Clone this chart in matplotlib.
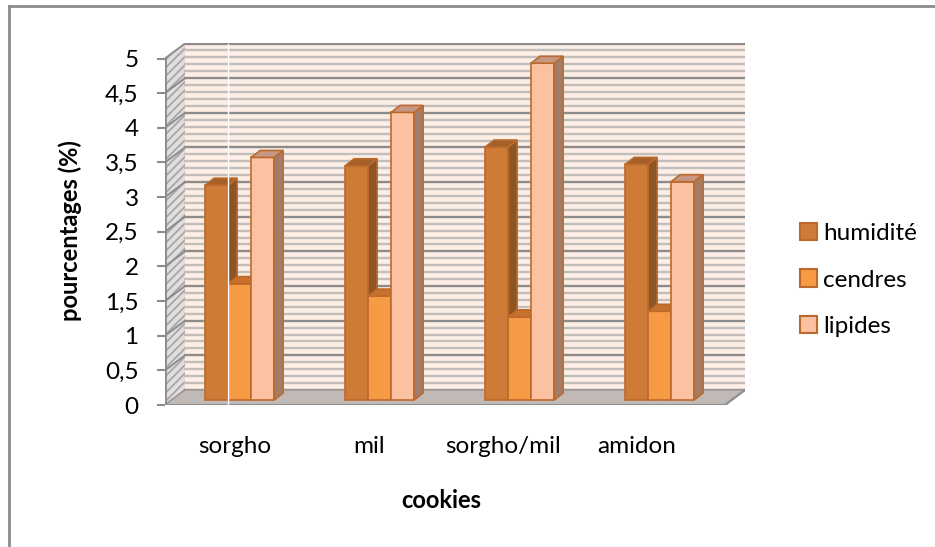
import matplotlib
matplotlib.use("Agg")
import matplotlib.pyplot as plt
from matplotlib.patches import Polygon, Patch
from matplotlib.lines import Line2D
import numpy as np

plt.rcParams['font.family'] = ['Lato', 'DejaVu Sans']
plt.rcParams['hatch.linewidth'] = 1.3

# data
categories = ["sorgho", "mil", "sorgho/mil", "amidon"]
series = ["humidité", "cendres", "lipides"]
humidite = [3.1, 3.38, 3.65, 3.4]
cendres = [1.68, 1.5, 1.2, 1.28]
lipides = [3.5, 4.15, 4.86, 3.15]
yticks = np.arange(0, 5.01, 0.5)
ytick_labels = [f"{t:g}".replace(".", ",") for t in yticks]

values = [humidite, cendres, lipides]
front_cols = ["#CD7B37", "#F79A45", "#FBC1A0"]
side_cols = ["#8D5524", "#B8652A", "#A37D6B"]
top_cols = ["#A5602A", "#C8712E", "#C79784"]
edge_col = "#BC6A2C"

W, H, DPI = 935, 547, 100
PX_CAT, PX_VAL = 140.0, 69.3      # pixels per category / per unit
DX, DY = 20 / PX_CAT, 15 / PX_VAL  # depth of the 3d box
BW = 23 / PX_CAT                   # bar width
BDX, BDY = 9 / PX_CAT, 7 / PX_VAL  # depth of a bar
BASE = 5 / PX_VAL
YMAX = 5.0
FS = 17.5
n = len(categories)

fig = plt.figure(figsize=(W / DPI, H / DPI), dpi=DPI)
ax = fig.add_axes([165 / W, (H - 405) / H, 580 / W, (405 - 43.3) / H])
ax.set_xlim(0, 580 / PX_CAT)
ax.set_ylim(0, (405 - 43.3) / PX_VAL)
for s in ax.spines.values():
    s.set_visible(False)

# walls and floor
ax.add_patch(Polygon([(DX, DY), (n + DX, DY), (n + DX, YMAX + DY), (DX, YMAX + DY)],
                     closed=True, facecolor="#FDEEE6", edgecolor="none", zorder=0))
ax.add_patch(Polygon([(0, 0), (0, YMAX), (DX, YMAX + DY), (DX, DY)], closed=True,
                     facecolor="#E2DEDC", edgecolor="#A9A5A3", hatch="////", lw=0, zorder=0))
ax.add_patch(Polygon([(0, 0), (n, 0), (n + DX, DY), (DX, DY)], closed=True,
                     facecolor="#C1B9B5", edgecolor="#A09A97", lw=1, zorder=1))

for v in np.arange(0, YMAX + 0.01, 0.1):
    major = abs(v / 0.5 - round(v / 0.5)) < 1e-6
    col = "#8C8C8C" if major else "#C2BEBC"
    ax.plot([DX, n + DX], [v + DY, v + DY], color=col, lw=1.7, zorder=0.5)
    if major:
        ax.plot([0, DX], [v, v + DY], color="#8C8C8C", lw=1.4, zorder=0.6)

ax.plot([0, 0], [0, YMAX], color="#8C8C8C", lw=2, zorder=2)
ax.plot([0, n], [0, 0], color="#8C8C8C", lw=2, zorder=2)
ax.plot([n, n + DX], [0, DY], color="#8C8C8C", lw=1.5, zorder=2)

# bars
z = 3
for i in range(n):
    left = i + 0.5 + 0.033 - 1.5 * BW
    for k, vals in enumerate(values):
        x0 = left + k * BW
        t = BASE + vals[i]
        faces = [
            ([(x0, BASE), (x0 + BW, BASE), (x0 + BW, t), (x0, t)], front_cols[k]),
            ([(x0 + BW, BASE), (x0 + BW + BDX, BASE + BDY), (x0 + BW + BDX, t + BDY),
              (x0 + BW, t)], side_cols[k]),
            ([(x0, t), (x0 + BW, t), (x0 + BW + BDX, t + BDY), (x0 + BDX, t + BDY)],
             top_cols[k]),
        ]
        for pts, c in faces:
            ax.add_patch(Polygon(pts, closed=True, facecolor=c, edgecolor=edge_col,
                                 lw=1.2, joinstyle="miter", zorder=z))
        z += 1

# stray white line of the original rendering
xw = 0.5 + 0.033 - 0.5 * BW
ax.plot([xw, xw], [-0.07, YMAX + DY], color="white", lw=1, zorder=50, clip_on=False)

ax.set_yticks(yticks)
ax.set_yticklabels(ytick_labels, fontsize=FS)
ax.tick_params(axis="y", length=6, width=1.5, color="#8C8C8C", pad=13)
ax.set_xticks([0.5 + i * 134 / PX_CAT for i in range(n)])
ax.set_xticklabels(categories, fontsize=FS)
ax.tick_params(axis="x", length=0, pad=22)

fig.text(441 / W, 1 - 501 / H, "cookies", ha="center", va="center",
         fontsize=FS - 0.5, fontweight="bold")
fig.text(70 / W, 1 - 231 / H, "pourcentages (%)", ha="center", va="center",
         rotation=90, fontsize=FS - 0.5, fontweight="bold")

handles = [Patch(facecolor=front_cols[k], edgecolor=edge_col, lw=1.5) for k in range(3)]
fig.legend(handles, series, loc="center left", bbox_to_anchor=(800 / W, 1 - 280 / H),
           frameon=False, fontsize=FS, handlelength=0.7, handleheight=0.7,
           handletextpad=0.25, labelspacing=1.05, borderpad=0, borderaxespad=0)

# chart border (only left and top edges are inside the crop)
fig.add_artist(Line2D([9 / W, 9 / W], [0, 1 - 6 / H], color="#8C8C8C", lw=2))
fig.add_artist(Line2D([9 / W, 1], [1 - 6 / H, 1 - 6 / H], color="#8C8C8C", lw=2))

fig.savefig("out.png", dpi=DPI)
